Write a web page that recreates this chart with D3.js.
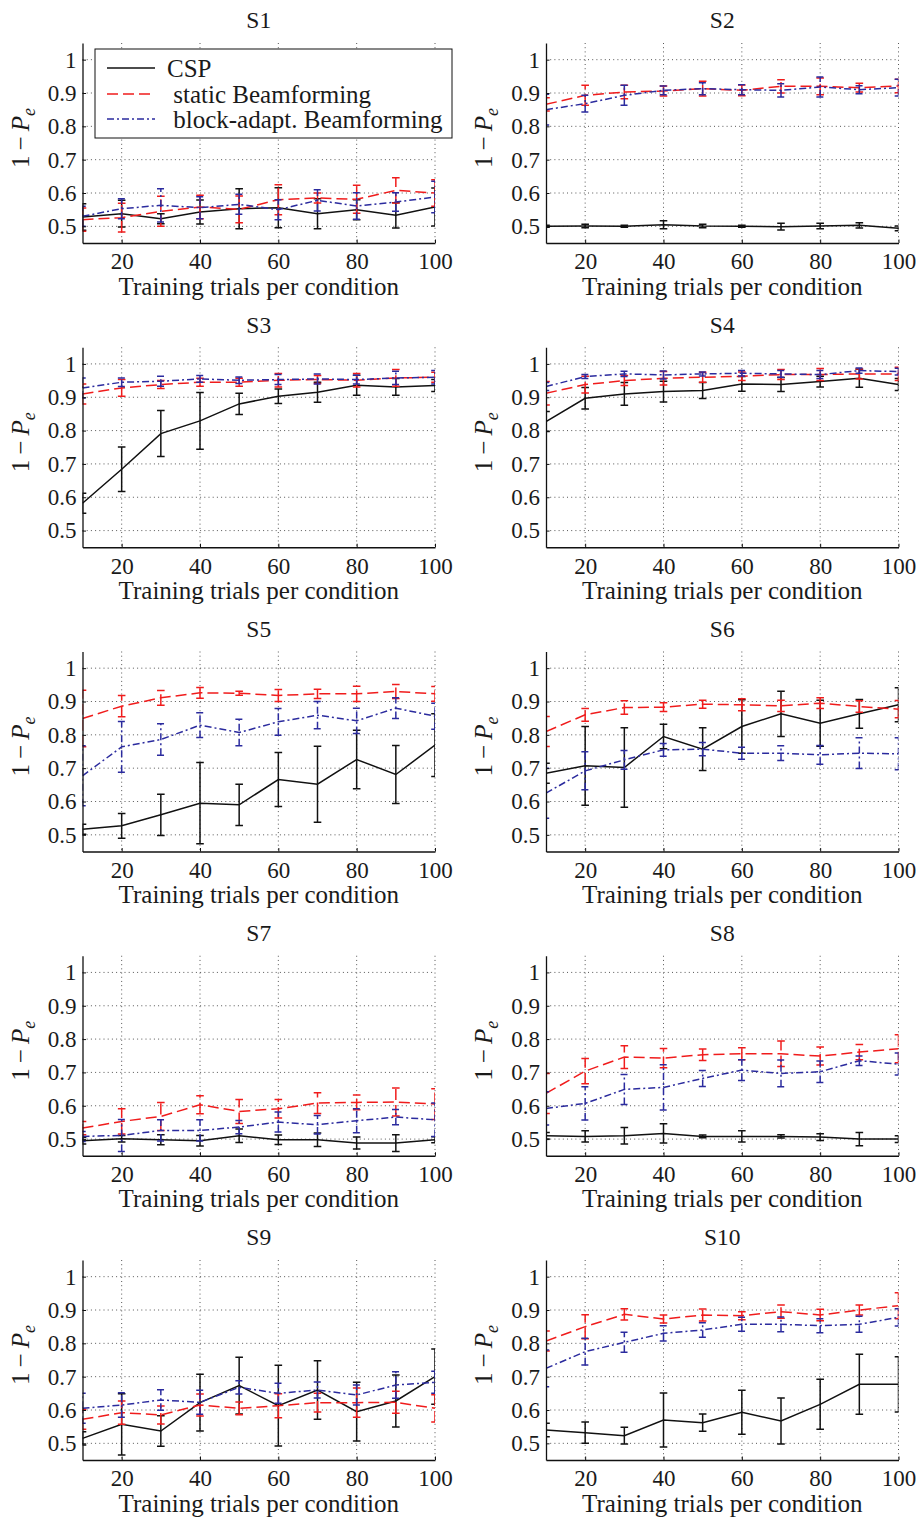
<!DOCTYPE html>
<html>
<head>
<meta charset="utf-8">
<script src="https://cdn.jsdelivr.net/npm/d3@7"></script>
<style>
  body { margin: 0; background: #fff; }
</style>
</head>
<body>
<svg id="fig" width="920" height="1519"></svg>
<script>
// Training set sizes (trials per condition)
const trials = [10, 20, 30, 40, 50, 60, 70, 80, 90, 100];
const subjects = ["S1", "S2", "S3", "S4", "S5", "S6", "S7", "S8", "S9", "S10"];
const xTicks = [20, 40, 60, 80, 100];
const yTicks = [0.5, 0.6, 0.7, 0.8, 0.9, 1];
const yTickLabels = ["0.5", "0.6", "0.7", "0.8", "0.9", "1"];
const seriesNames = ["CSP", " static Beamforming", " block-adapt. Beamforming"];

// Classification accuracy 1 - Pe, one row per subject
const cspMean = [
  [0.528,0.538,0.523,0.543,0.553,0.556,0.538,0.550,0.533,0.558],
  [0.500,0.501,0.500,0.505,0.501,0.500,0.499,0.501,0.503,0.494],
  [0.582,0.684,0.791,0.829,0.880,0.903,0.915,0.936,0.931,0.935],
  [0.827,0.897,0.910,0.917,0.920,0.940,0.938,0.947,0.957,0.938],
  [0.517,0.527,0.560,0.595,0.590,0.666,0.652,0.726,0.681,0.769],
  [0.685,0.707,0.702,0.795,0.757,0.825,0.863,0.835,0.863,0.890],
  [0.495,0.501,0.498,0.495,0.510,0.498,0.498,0.488,0.488,0.498],
  [0.510,0.508,0.510,0.517,0.508,0.508,0.508,0.506,0.500,0.500],
  [0.515,0.557,0.537,0.622,0.673,0.613,0.660,0.595,0.627,0.700],
  [0.540,0.532,0.523,0.570,0.562,0.593,0.567,0.617,0.677,0.677]
];
const cspErr = [
  [0.040,0.040,0.015,0.036,0.060,0.060,0.045,0.030,0.038,0.057],
  [0.003,0.005,0.003,0.012,0.005,0.003,0.010,0.008,0.008,0.007],
  [0.030,0.067,0.069,0.085,0.032,0.022,0.030,0.030,0.025,0.018],
  [0.030,0.032,0.034,0.031,0.024,0.022,0.021,0.016,0.027,0.018],
  [0.015,0.037,0.062,0.122,0.062,0.081,0.114,0.088,0.087,0.094],
  [0.030,0.118,0.119,0.037,0.064,0.080,0.068,0.069,0.043,0.051],
  [0.010,0.010,0.015,0.016,0.020,0.014,0.020,0.018,0.025,0.009],
  [0.010,0.017,0.025,0.029,0.004,0.017,0.005,0.010,0.020,0.010],
  [0.020,0.092,0.046,0.085,0.085,0.121,0.088,0.088,0.078,0.083],
  [0.020,0.032,0.025,0.081,0.026,0.066,0.069,0.075,0.090,0.083]
];
const staticMean = [
  [0.520,0.526,0.545,0.558,0.551,0.580,0.585,0.581,0.608,0.600],
  [0.866,0.893,0.903,0.906,0.913,0.908,0.920,0.920,0.916,0.921],
  [0.910,0.928,0.938,0.945,0.945,0.951,0.953,0.951,0.958,0.960],
  [0.912,0.938,0.950,0.957,0.960,0.963,0.968,0.968,0.970,0.970],
  [0.849,0.886,0.911,0.926,0.925,0.918,0.923,0.923,0.930,0.923],
  [0.810,0.860,0.882,0.883,0.892,0.890,0.887,0.895,0.885,0.877],
  [0.533,0.553,0.568,0.603,0.583,0.591,0.608,0.610,0.611,0.605],
  [0.637,0.704,0.746,0.743,0.753,0.756,0.756,0.749,0.761,0.771],
  [0.572,0.592,0.585,0.615,0.605,0.613,0.622,0.622,0.623,0.605],
  [0.807,0.850,0.887,0.873,0.885,0.883,0.895,0.885,0.900,0.913]
];
const staticErr = [
  [0.035,0.043,0.045,0.035,0.040,0.045,0.015,0.042,0.038,0.040],
  [0.020,0.030,0.020,0.015,0.022,0.016,0.020,0.025,0.013,0.020],
  [0.030,0.025,0.012,0.012,0.012,0.020,0.012,0.020,0.025,0.015],
  [0.035,0.025,0.015,0.020,0.015,0.013,0.015,0.018,0.015,0.020],
  [0.085,0.032,0.022,0.016,0.006,0.018,0.014,0.023,0.021,0.022],
  [0.045,0.019,0.020,0.013,0.012,0.018,0.017,0.016,0.017,0.026],
  [0.020,0.038,0.042,0.027,0.036,0.028,0.031,0.022,0.042,0.046],
  [0.060,0.038,0.034,0.029,0.017,0.018,0.038,0.027,0.023,0.042],
  [0.030,0.035,0.027,0.033,0.019,0.036,0.028,0.044,0.033,0.041],
  [0.030,0.036,0.017,0.012,0.018,0.012,0.020,0.017,0.015,0.039]
];
const blockMean = [
  [0.530,0.553,0.563,0.556,0.566,0.550,0.578,0.561,0.573,0.588],
  [0.850,0.868,0.893,0.908,0.913,0.910,0.908,0.918,0.910,0.916],
  [0.928,0.945,0.948,0.955,0.951,0.953,0.955,0.953,0.958,0.960],
  [0.932,0.962,0.970,0.967,0.970,0.972,0.970,0.968,0.980,0.977],
  [0.677,0.764,0.786,0.829,0.807,0.839,0.859,0.842,0.880,0.856],
  [0.625,0.692,0.725,0.755,0.757,0.745,0.745,0.740,0.745,0.743],
  [0.508,0.511,0.526,0.526,0.536,0.551,0.543,0.555,0.566,0.558],
  [0.592,0.607,0.649,0.655,0.682,0.707,0.697,0.702,0.735,0.725],
  [0.605,0.615,0.630,0.623,0.668,0.650,0.660,0.645,0.675,0.683],
  [0.725,0.775,0.803,0.830,0.840,0.857,0.857,0.853,0.857,0.878]
];
const blockErr = [
  [0.030,0.030,0.050,0.033,0.030,0.030,0.032,0.040,0.028,0.047],
  [0.046,0.025,0.030,0.013,0.018,0.015,0.020,0.030,0.012,0.025],
  [0.030,0.013,0.015,0.010,0.010,0.015,0.015,0.013,0.020,0.020],
  [0.012,0.006,0.008,0.012,0.006,0.008,0.010,0.012,0.008,0.010],
  [0.090,0.076,0.047,0.037,0.040,0.040,0.041,0.038,0.031,0.039],
  [0.075,0.057,0.028,0.019,0.020,0.018,0.022,0.028,0.046,0.048],
  [0.015,0.048,0.032,0.032,0.020,0.030,0.028,0.036,0.023,0.050],
  [0.050,0.050,0.045,0.068,0.024,0.031,0.040,0.032,0.014,0.033],
  [0.045,0.037,0.031,0.036,0.020,0.030,0.024,0.030,0.040,0.033],
  [0.055,0.040,0.030,0.023,0.022,0.021,0.022,0.021,0.024,0.026]
];

const series = [
  { name: seriesNames[0], mean: cspMean,    err: cspErr,    color: "#111111", dash: null },
  { name: seriesNames[1], mean: staticMean, err: staticErr, color: "#f01c1c", dash: "11,5" },
  { name: seriesNames[2], mean: blockMean,  err: blockErr,  color: "#2b2b9e", dash: "7,3,2,3" }
];

// Panel layout
const SERIF = "'Liberation Serif', 'Times New Roman', Tinos, serif";
const colLeft = [82.5, 546];
const plotW = 352.5;
const plotH = 200;
const firstTop = 43;
const rowStep = 304.25;
const tickFont = 23;
const labelFont = 25;
const titleFont = 23.5;
const capHalf = 3.8;

const svg = d3.select("#fig");

function serifText(sel, size) {
  return sel.style("font-family", SERIF).style("font-size", size + "px").style("fill", "#1a1a1a");
}

subjects.forEach((subj, si) => {
  const col = si % 2, row = Math.floor(si / 2);
  const left = colLeft[col], top = firstTop + row * rowStep;

  const x = d3.scaleLinear().domain([10, 100]).range([0, plotW]);
  const y = d3.scaleLinear().domain([0.45, 1.05]).range([plotH, 0]);

  const g = svg.append("g").attr("transform", `translate(${left},${top})`);

  const clipId = "clip" + si;
  g.append("clipPath").attr("id", clipId)
    .append("rect").attr("x", 0).attr("y", 0).attr("width", plotW).attr("height", plotH);

  // dotted grid
  const grid = g.append("g").attr("stroke", "#444").attr("stroke-width", 0.9)
    .attr("stroke-dasharray", "1,3.2");
  grid.selectAll("line.h").data(yTicks).join("line").attr("class", "h")
    .attr("x1", 0).attr("x2", plotW).attr("y1", d => y(d)).attr("y2", d => y(d));
  grid.selectAll("line.v").data(xTicks).join("line").attr("class", "v")
    .attr("y1", 0).attr("y2", plotH).attr("x1", d => x(d)).attr("x2", d => x(d));

  // data lines and error bars
  const plot = g.append("g").attr("clip-path", `url(#${clipId})`);
  const line = d3.line().x(d => x(d[0])).y(d => y(d[1]));
  series.forEach(s => {
    const m = s.mean[si], e = s.err[si];
    const pts = trials.map((t, i) => [t, m[i]]);
    const sg = plot.append("g").attr("stroke", s.color).attr("fill", "none")
      .attr("stroke-width", 1.5);
    if (s.dash) sg.attr("stroke-dasharray", s.dash);
    sg.append("path").attr("d", line(pts));
    trials.forEach((t, i) => {
      const cx = x(t), y0 = y(m[i] - e[i]), y1 = y(m[i] + e[i]);
      sg.append("path").attr("d",
        `M${cx},${y0}L${cx},${y1}M${cx - capHalf},${y0}L${cx + capHalf},${y0}M${cx - capHalf},${y1}L${cx + capHalf},${y1}`);
    });
  });

  // axes
  const yAxis = d3.axisLeft(y).tickValues(yTicks)
    .tickFormat((d, i) => yTickLabels[i]).tickSizeInner(-3.5).tickSizeOuter(0).tickPadding(6);
  const xAxis = d3.axisBottom(x).tickValues(xTicks)
    .tickFormat(d3.format("d")).tickSizeInner(-3.5).tickSizeOuter(0).tickPadding(10);

  const ya = g.append("g").call(yAxis);
  const xa = g.append("g").attr("transform", `translate(0,${plotH})`).call(xAxis);
  [ya, xa].forEach(a => {
    a.attr("font-family", null).attr("font-size", null);
    a.select(".domain").attr("stroke", "#111").attr("stroke-width", 1.3);
    a.selectAll(".tick line").attr("stroke", "#111").attr("stroke-width", 1);
    serifText(a.selectAll("text"), tickFont);
  });

  // subplot title
  serifText(g.append("text"), titleFont).attr("x", plotW / 2).attr("y", -14.7)
    .attr("text-anchor", "middle").text(subj);

  // x-axis label
  serifText(g.append("text"), labelFont).attr("x", plotW / 2).attr("y", plotH + 51.5)
    .attr("text-anchor", "middle").text("Training trials per condition");

  // y-axis label: 1 − P_e
  const yl = serifText(g.append("text"), labelFont)
    .attr("transform", `translate(-54,${plotH / 2 - 5}) rotate(-90)`)
    .attr("text-anchor", "middle");
  yl.append("tspan").text("1");
  yl.append("tspan").attr("dx", 5).text("−");
  yl.append("tspan").attr("dx", 5).style("font-style", "italic").text("P");
  yl.append("tspan").style("font-style", "italic").style("font-size", "18px").attr("dy", 6).text("e");

  // legend in the first panel
  if (si === 0) {
    const lg = svg.append("g").attr("transform", "translate(95,49)");
    lg.append("rect").attr("width", 357).attr("height", 89)
      .attr("fill", "#fff").attr("stroke", "#111").attr("stroke-width", 1);
    const rowsY = [19, 45, 70];
    series.forEach((s, i) => {
      const ln = lg.append("line").attr("x1", 12).attr("x2", 60)
        .attr("y1", rowsY[i]).attr("y2", rowsY[i])
        .attr("stroke", s.color).attr("stroke-width", 1.5);
      if (s.dash) ln.attr("stroke-dasharray", s.dash);
      serifText(lg.append("text"), labelFont).attr("x", 72).attr("y", rowsY[i] + 8.7)
        .style("white-space", "pre").text(s.name);
    });
  }
});
</script>
</body>
</html>
